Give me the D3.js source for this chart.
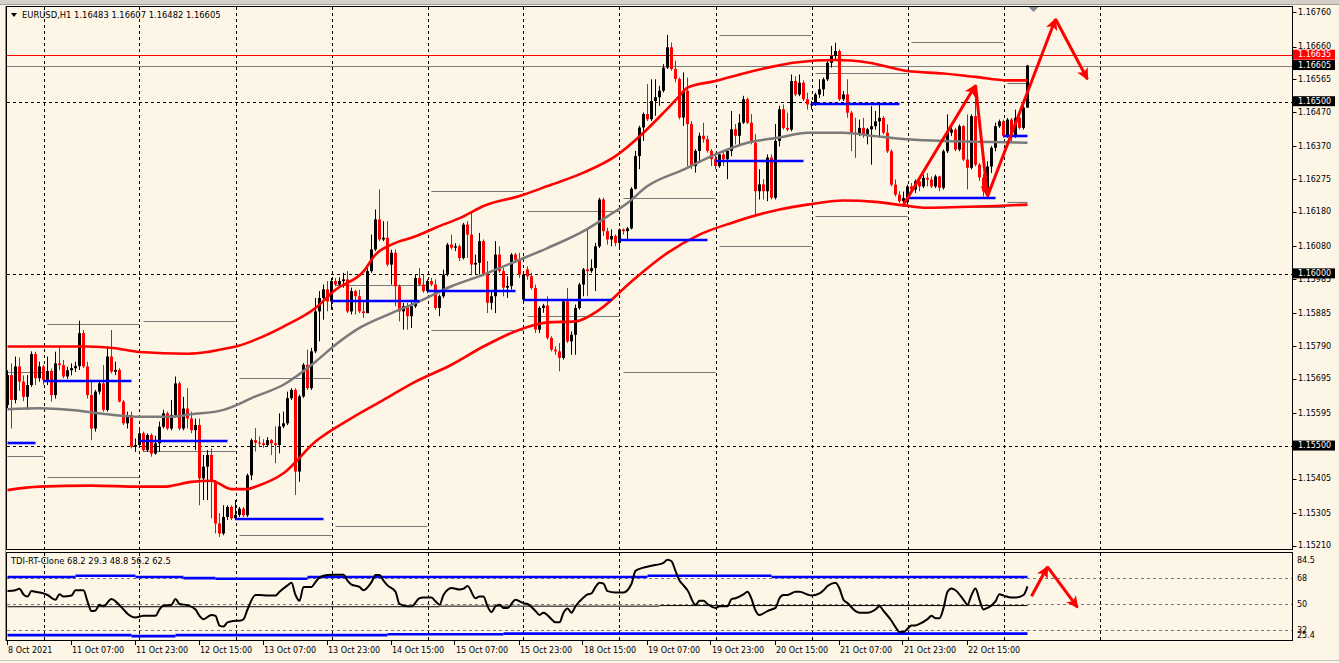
<!DOCTYPE html>
<html><head><meta charset="utf-8">
<script src="https://cdn.jsdelivr.net/npm/d3@7"></script>
<style>html,body{margin:0;padding:0;background:#fdf5e6;}svg{display:block;}text{font-family:"DejaVu Sans","Liberation Sans",Arial,sans-serif;font-size:8px;fill:#000;}</style>
</head><body><svg id="c" width="1339" height="663"></svg>
<script>
// ---------- DATA ----------
const symbolTitle = "EURUSD,H1  1.16483 1.16607 1.16482 1.16605";
const indicatorTitle = "TDI-RT-Clone 68.2 29.3 48.8 56.2 62.5";
const open = [
1.15619,1.15706,1.15634,1.15731,1.15687,1.15643,1.15677,1.15767,1.15697,1.15731,
1.15692,1.15718,1.15648,1.15740,1.15735,1.15702,1.15720,1.15726,1.15732,1.15828,
1.15731,1.15648,1.15551,1.15658,1.15682,1.15605,1.15760,1.15716,1.15721,1.15629,
1.15566,1.15590,1.15498,1.15503,1.15537,1.15488,1.15532,1.15478,1.15508,1.15556,
1.15595,1.15551,1.15590,1.15682,1.15551,1.15609,1.15580,1.15546,1.15561,1.15406,
1.15440,1.15474,1.15396,1.15275,1.15246,1.15294,1.15323,1.15290,1.15300,1.15318,
1.15299,1.15415,1.15517,1.15510,1.15508,1.15503,1.15517,1.15508,1.15503,1.15557,
1.15566,1.15639,1.15663,1.15426,1.15644,1.15736,1.15668,1.15775,1.15891,1.15930,
1.15955,1.15920,1.15979,1.15969,1.15979,1.15984,1.15891,1.15950,1.15935,1.15891,
1.15886,1.16008,1.16071,1.16158,1.16100,1.16105,1.16027,1.16061,1.15964,1.15891,
1.15906,1.15877,1.15906,1.15988,1.15969,1.15950,1.15979,1.15969,1.15901,1.15935,
1.15998,1.16085,1.16076,1.16080,1.16046,1.16143,1.16114,1.16027,1.16032,1.16095,
1.15998,1.15916,1.15935,1.16056,1.16008,1.15960,1.15965,1.16056,1.16041,1.15925,
1.16013,1.15993,1.15959,1.15838,1.15901,1.15908,1.15814,1.15780,1.15775,1.15756,
1.15920,1.15804,1.15823,1.15901,1.15969,1.16013,1.16008,1.16017,1.16080,1.16216,
1.16124,1.16100,1.16110,1.16090,1.16129,1.16124,1.16132,1.16247,1.16342,1.16425,
1.16464,1.16449,1.16502,1.16513,1.16532,1.16599,1.16658,1.16595,1.16566,1.16454,
1.16532,1.16435,1.16313,1.16357,1.16401,1.16391,1.16357,1.16333,1.16313,1.16347,
1.16333,1.16357,1.16420,1.16401,1.16439,1.16507,1.16439,1.16381,1.16240,1.16260,
1.16240,1.16338,1.16221,1.16386,1.16478,1.16424,1.16419,1.16560,1.16521,1.16555,
1.16507,1.16492,1.16494,1.16521,1.16536,1.16565,1.16613,1.16633,1.16647,1.16507,
1.16521,1.16468,1.16410,1.16405,1.16424,1.16405,1.16420,1.16429,1.16443,1.16453,
1.16410,1.16356,1.16259,1.16230,1.16211,1.16220,1.16254,1.16245,1.16269,1.16254,
1.16279,1.16274,1.16254,1.16283,1.16250,1.16356,1.16410,1.16419,1.16361,1.16429,
1.16332,1.16308,1.16458,1.16317,1.16280,1.16240,1.16312,1.16366,1.16429,1.16443,
1.16400,1.16448,1.16400,1.16453,1.16424,1.16483];
const high = [
1.15720,1.15740,1.15760,1.15757,1.15705,1.15706,1.15775,1.15774,1.15745,1.15736,
1.15760,1.15725,1.15774,1.15790,1.15750,1.15730,1.15740,1.15745,1.15864,1.15837,
1.15745,1.15692,1.15663,1.15690,1.15735,1.15789,1.15837,1.15745,1.15726,1.15634,
1.15600,1.15600,1.15522,1.15551,1.15542,1.15537,1.15537,1.15530,1.15571,1.15605,
1.15600,1.15634,1.15702,1.15687,1.15643,1.15668,1.15600,1.15580,1.15580,1.15474,
1.15488,1.15493,1.15401,1.15305,1.15328,1.15328,1.15328,1.15343,1.15323,1.15323,
1.15420,1.15522,1.15552,1.15528,1.15520,1.15526,1.15520,1.15557,1.15595,1.15600,
1.15658,1.15668,1.15668,1.15649,1.15741,1.15780,1.15785,1.15930,1.15950,1.15969,
1.15979,1.15988,1.15988,1.15990,1.16003,1.16008,1.15960,1.15954,1.15954,1.15920,
1.16017,1.16114,1.16187,1.16245,1.16153,1.16153,1.16070,1.16071,1.15969,1.15916,
1.15916,1.15925,1.15998,1.16017,1.15998,1.15984,1.15988,1.15984,1.15940,1.16012,
1.16090,1.16114,1.16089,1.16085,1.16148,1.16153,1.16182,1.16056,1.16119,1.16100,
1.16037,1.15950,1.16095,1.16080,1.16017,1.15993,1.16060,1.16061,1.16061,1.16003,
1.16022,1.16003,1.15969,1.15906,1.15913,1.15935,1.15819,1.15790,1.15799,1.15925,
1.15959,1.15833,1.15911,1.15974,1.16017,1.16129,1.16042,1.16090,1.16221,1.16221,
1.16134,1.16129,1.16115,1.16132,1.16132,1.16136,1.16252,1.16357,1.16430,1.16469,
1.16551,1.16565,1.16565,1.16546,1.16609,1.16694,1.16672,1.16619,1.16570,1.16585,
1.16570,1.16444,1.16362,1.16410,1.16439,1.16401,1.16362,1.16352,1.16352,1.16357,
1.16362,1.16473,1.16435,1.16464,1.16517,1.16512,1.16464,1.16406,1.16304,1.16275,
1.16347,1.16347,1.16435,1.16488,1.16492,1.16468,1.16579,1.16574,1.16579,1.16562,
1.16526,1.16502,1.16526,1.16565,1.16570,1.16618,1.16662,1.16671,1.16652,1.16531,
1.16565,1.16473,1.16453,1.16448,1.16453,1.16424,1.16487,1.16473,1.16492,1.16458,
1.16434,1.16361,1.16274,1.16240,1.16239,1.16259,1.16264,1.16274,1.16279,1.16288,
1.16293,1.16283,1.16288,1.16285,1.16361,1.16463,1.16424,1.16424,1.16434,1.16432,
1.16463,1.16463,1.16545,1.16322,1.16290,1.16327,1.16371,1.16439,1.16448,1.16448,
1.16453,1.16453,1.16477,1.16458,1.16487,1.16607];
const low = [
1.15610,1.15551,1.15624,1.15660,1.15630,1.15605,1.15672,1.15677,1.15687,1.15678,
1.15677,1.15629,1.15638,1.15720,1.15697,1.15695,1.15705,1.15715,1.15721,1.15726,
1.15638,1.15517,1.15542,1.15650,1.15600,1.15600,1.15711,1.15706,1.15627,1.15561,
1.15551,1.15493,1.15483,1.15498,1.15483,1.15483,1.15469,1.15475,1.15483,1.15551,
1.15546,1.15546,1.15585,1.15546,1.15546,1.15551,1.15537,1.15488,1.15328,1.15343,
1.15343,1.15290,1.15246,1.15236,1.15241,1.15285,1.15285,1.15285,1.15294,1.15294,
1.15294,1.15401,1.15484,1.15498,1.15495,1.15498,1.15474,1.15450,1.15479,1.15552,
1.15561,1.15634,1.15358,1.15396,1.15640,1.15663,1.15663,1.15770,1.15804,1.15867,
1.15891,1.15896,1.15964,1.15960,1.15960,1.15886,1.15882,1.15882,1.15886,1.15872,
1.15886,1.16003,1.16066,1.16095,1.16095,1.16022,1.15969,1.15906,1.15862,1.15838,
1.15838,1.15843,1.15901,1.15964,1.15945,1.15945,1.15964,1.15896,1.15877,1.15930,
1.15993,1.16071,1.16066,1.16037,1.16042,1.16046,1.15998,1.15998,1.15998,1.15993,
1.15886,1.15896,1.15886,1.16003,1.15935,1.15930,1.15955,1.16032,1.15988,1.15916,
1.15983,1.15954,1.15828,1.15828,1.15887,1.15809,1.15775,1.15765,1.15717,1.15751,
1.15799,1.15765,1.15765,1.15896,1.15935,1.15935,1.16003,1.15950,1.16075,1.16110,
1.16085,1.16080,1.16080,1.16075,1.16114,1.16100,1.16129,1.16245,1.16304,1.16386,
1.16444,1.16444,1.16459,1.16488,1.16527,1.16595,1.16590,1.16556,1.16449,1.16430,
1.16313,1.16304,1.16294,1.16328,1.16381,1.16352,1.16313,1.16304,1.16308,1.16313,
1.16275,1.16342,1.16376,1.16371,1.16435,1.16435,1.16376,1.16173,1.16216,1.16216,
1.16211,1.16216,1.16216,1.16370,1.16419,1.16414,1.16414,1.16516,1.16516,1.16502,
1.16477,1.16477,1.16488,1.16511,1.16516,1.16560,1.16599,1.16623,1.16502,1.16502,
1.16453,1.16356,1.16337,1.16400,1.16395,1.16376,1.16317,1.16419,1.16395,1.16405,
1.16351,1.16254,1.16225,1.16206,1.16196,1.16201,1.16235,1.16235,1.16240,1.16249,
1.16254,1.16249,1.16249,1.16240,1.16245,1.16351,1.16400,1.16356,1.16356,1.16327,
1.16245,1.16303,1.16312,1.16270,1.16225,1.16220,1.16293,1.16356,1.16424,1.16395,
1.16395,1.16380,1.16395,1.16419,1.16419,1.16482];
const close = [
1.15706,1.15634,1.15731,1.15687,1.15643,1.15677,1.15767,1.15697,1.15731,1.15692,
1.15718,1.15648,1.15740,1.15735,1.15702,1.15720,1.15726,1.15732,1.15828,1.15731,
1.15648,1.15551,1.15658,1.15682,1.15605,1.15760,1.15716,1.15721,1.15629,1.15566,
1.15590,1.15498,1.15503,1.15537,1.15488,1.15532,1.15478,1.15508,1.15556,1.15595,
1.15551,1.15590,1.15682,1.15551,1.15609,1.15580,1.15546,1.15561,1.15406,1.15440,
1.15474,1.15396,1.15275,1.15246,1.15294,1.15323,1.15290,1.15300,1.15318,1.15299,
1.15415,1.15517,1.15510,1.15508,1.15503,1.15517,1.15508,1.15503,1.15557,1.15566,
1.15639,1.15663,1.15426,1.15644,1.15736,1.15668,1.15775,1.15891,1.15930,1.15955,
1.15920,1.15979,1.15969,1.15979,1.15984,1.15891,1.15950,1.15935,1.15891,1.15886,
1.16008,1.16071,1.16158,1.16100,1.16105,1.16027,1.16061,1.15964,1.15891,1.15906,
1.15877,1.15906,1.15988,1.15969,1.15950,1.15979,1.15969,1.15901,1.15935,1.15998,
1.16085,1.16076,1.16080,1.16046,1.16143,1.16114,1.16027,1.16032,1.16095,1.15998,
1.15916,1.15935,1.16056,1.16008,1.15960,1.15965,1.16056,1.16041,1.15998,1.15998,
1.15993,1.15959,1.15838,1.15901,1.15908,1.15814,1.15780,1.15775,1.15756,1.15920,
1.15804,1.15823,1.15901,1.15969,1.16013,1.16008,1.16017,1.16080,1.16216,1.16124,
1.16100,1.16110,1.16090,1.16129,1.16124,1.16132,1.16247,1.16342,1.16425,1.16464,
1.16449,1.16502,1.16513,1.16532,1.16599,1.16658,1.16595,1.16566,1.16454,1.16532,
1.16435,1.16313,1.16357,1.16401,1.16391,1.16357,1.16333,1.16313,1.16347,1.16333,
1.16357,1.16420,1.16401,1.16439,1.16507,1.16439,1.16381,1.16240,1.16260,1.16240,
1.16338,1.16221,1.16386,1.16478,1.16424,1.16419,1.16560,1.16521,1.16555,1.16507,
1.16492,1.16494,1.16521,1.16536,1.16565,1.16613,1.16633,1.16647,1.16507,1.16521,
1.16468,1.16410,1.16405,1.16424,1.16405,1.16420,1.16429,1.16443,1.16453,1.16410,
1.16356,1.16259,1.16230,1.16211,1.16220,1.16254,1.16245,1.16269,1.16254,1.16279,
1.16274,1.16254,1.16283,1.16250,1.16356,1.16410,1.16419,1.16361,1.16429,1.16332,
1.16308,1.16458,1.16317,1.16280,1.16240,1.16312,1.16366,1.16429,1.16443,1.16400,
1.16448,1.16400,1.16453,1.16424,1.16483,1.16605];

// time axis
const timeLabels = ["8 Oct 2021","11 Oct 07:00","11 Oct 23:00","12 Oct 15:00","13 Oct 07:00","13 Oct 23:00","14 Oct 15:00","15 Oct 07:00","15 Oct 23:00","18 Oct 15:00","19 Oct 07:00","19 Oct 23:00","20 Oct 15:00","21 Oct 07:00","21 Oct 23:00","22 Oct 15:00"];
const timeLabelBars = [0,16,32,48,64,80,96,112,128,144,160,176,192,208,224,240];
const totalSlots = 321;
const dayStartBars = [9,33,57,81,105,129,153,177,201,225,249,273];

// price axis
const priceTicks = [1.16760,1.16660,1.16565,1.16470,1.16370,1.16275,1.16180,1.16080,1.15985,1.15885,1.15790,1.15695,1.15595,1.15500,1.15405,1.15305,1.15210];
const priceDomain = [1.15201, 1.16775];
const dashedLevels = [1.16500, 1.16000, 1.15500];
const askPrice = 1.16635, bidPrice = 1.16605;

// bands (bar index, price)
const upperBandBars = [0,9,20,27,33,45,50,55,58,62,69,77,82,89,92,96,102,107,114,119,128,135,144,152,159,164,168,170,177,185,193,197,207,215,225,234,242,250,255];
const upperBand = [1.15789,1.15789,1.15789,1.15784,1.15773,1.15768,1.15773,1.15784,1.15792,1.15809,1.15847,1.15901,1.15954,1.16007,1.16056,1.16085,1.16109,1.16134,1.16167,1.16197,1.16226,1.16255,1.16294,1.16342,1.16410,1.16468,1.16517,1.16541,1.16560,1.16585,1.16606,1.16614,1.16621,1.16614,1.16589,1.16582,1.16572,1.16562,1.16562];
const midBandBars = [0,8,16,25,33,41,46,54,62,69,77,82,88,96,102,111,119,128,135,144,150,155,160,169,177,185,193,200,209,217,225,234,242,255];
const midBand = [1.15607,1.15610,1.15605,1.15592,1.15585,1.15585,1.15592,1.15605,1.15644,1.15678,1.15745,1.15794,1.15843,1.15886,1.15915,1.15964,1.15998,1.16041,1.16075,1.16124,1.16167,1.16206,1.16255,1.16303,1.16347,1.16381,1.16396,1.16410,1.16410,1.16400,1.16391,1.16386,1.16384,1.16381];
const lowerBandBars = [0,8,21,33,39,46,51,56,60,62,69,77,86,94,102,111,119,128,135,142,148,156,165,173,181,193,200,209,217,224,230,238,247,255];
const lowerBand = [1.15372,1.15382,1.15385,1.15382,1.15382,1.15396,1.15399,1.15375,1.15375,1.15382,1.15421,1.15513,1.15581,1.15634,1.15687,1.15736,1.15789,1.15838,1.15859,1.15862,1.15896,1.15978,1.16061,1.16114,1.16148,1.16187,1.16201,1.16213,1.16209,1.16199,1.16192,1.16194,1.16197,1.16201];

// daily levels
const levelStartBars = [0,9,33,57,81,105,129,153,177,201,225,249];
const levelEndBars   = [8,32,56,80,104,128,152,176,200,224,248,255];
const pivotLevels = [1.15508,1.15690,1.15516,1.15289,1.15922,1.15949,1.15923,1.16098,1.16329,1.16493,1.16220,1.16399];
const upperLevels = [1.15715,1.15854,1.15864,1.15697,1.15969,1.16242,1.16182,1.16221,1.16693,1.16582,1.16672,1.16553];
const lowerLevels = [1.15470,1.15409,1.15486,1.15241,1.15267,1.15837,1.15878,1.15715,1.16080,1.16167,1.16195,1.16209];

// drawn arrows (bar, price)
const arrowBars = [224,242,245,262,270];
const arrowPrices = [1.16201,1.16548,1.16225,1.16740,1.16565];

// TDI indicator
const tdiDomain = [25.4, 84.5];
const tdiLevels = [68, 50, 32];
const tdiAxisLabels = ["84.5","68","50","32","25.4"];
const tdiAxisValues = [84.5,68,50,32,25.4];
const tdiBars = [0,2,3,4,5,6,7,9,10,12,13,14,16,17,19,20,21,22,23,24,26,27,29,30,32,34,35,37,38,39,41,42,43,45,47,48,49,51,52,53,54,55,57,58,59,60,62,63,65,67,68,70,71,72,73,74,76,77,78,80,82,84,85,86,88,89,91,92,93,94,95,97,98,100,101,103,104,106,107,108,109,111,113,114,115,117,118,119,120,121,122,123,124,125,127,129,130,132,133,134,136,137,138,139,140,141,142,144,145,146,147,148,149,150,152,154,156,157,159,160,162,164,165,166,167,168,169,170,172,173,174,175,177,178,180,181,182,184,185,186,187,188,190,191,192,193,194,195,197,198,200,201,203,204,205,207,208,209,210,212,213,215,217,218,219,221,222,223,224,225,226,227,228,230,231,232,233,234,235,236,237,239,240,241,242,243,244,245,247,248,249,251,252,254,255];
const tdiValues = [59.2,59.8,60.9,56.9,55.4,59.2,58.7,57.6,56.5,53.2,57,55.4,56.1,59.8,59.8,52.1,45.4,45.8,49.8,48.7,53.8,52.1,46.5,43.6,41,42.1,42.1,42.1,46.5,49.2,49.8,53.8,50.3,49.4,46.5,42.1,39.8,42.7,42.1,35.4,34.7,37.6,38.7,38.7,39.8,46.5,56.5,56.5,56.1,56.1,58.7,63.2,64.9,56.5,52.5,62.1,62.1,65.4,68.7,70.3,70.5,70.5,66.5,63.6,62.1,59.8,65.4,70.3,70.3,66.5,63.2,58.7,50.3,48.7,48.7,54.3,54.7,54.7,52.1,49.8,56.5,61.4,60.3,60.9,62.7,54.3,55.4,55.4,48.7,44.7,48.7,49.8,47.6,47.6,53.2,50.9,50.3,45.4,42.7,44.3,39.8,37.6,37.6,44.3,47.2,44.3,48.7,54.7,56.9,57.6,62.1,65,64.3,59.2,58.3,58.3,64.3,73.2,75.4,76.1,77.2,78.7,80.9,79.8,73.2,66.5,63.2,59.8,49.8,52.5,52.5,50.3,47.6,48.7,48.7,53.6,54.3,56.9,58.7,53.8,45.8,42.7,45.4,46.5,47.6,54.3,56.5,56.5,58.7,58.7,56.9,56.1,57.6,59.8,62.7,65,61,53.2,50.9,45.4,44.3,44.3,46.5,48.7,45.5,38.7,34.3,30.9,30.9,33.2,35.4,35.4,36.5,39.8,42.1,40.5,40.5,47.6,58.7,61,59.8,53.2,49.8,56.5,61,53.2,46.5,47.6,52.1,57,56.1,54.7,54.7,56.5,62.5];
const tdiUpperStart = [0,17,32,44,52,75,160,191];
const tdiUpperEnd   = [17,32,44,52,75,160,191,255];
const tdiUpper      = [68.9,69.8,68.9,68.2,67.7,68.9,69.8,68.9];
const tdiLowerStart = [0,31,42,95,124];
const tdiLowerEnd   = [31,42,95,124,255];
const tdiLower      = [28.8,28.1,28.8,29.4,29.8];
const tdiMidStart = [0,108,163];
const tdiMidEnd   = [108,163,255];
const tdiMid      = [48.4,48.8,49.2];
const tdiArrowBars = [256,260,267.5];
const tdiArrowValues = [55.7,76.0,47.9];

// ---------- DRAW ----------
const svg = d3.select('#c');
const BG = '#fdf5e6';
const left = 6.5, right = 1292.5, mTop = 6.5, mBot = 549.5, iTop = 552.5, iBot = 640.5;
const x = d3.scaleLinear().domain([0, totalSlots]).range([7.5, 7.5 + 4 * totalSlots]);
const y = d3.scaleLinear().domain(priceDomain).range([549, 7]);
const yi = d3.scaleLinear().domain(tdiDomain).range([640, 554.5]);

svg.append('rect').attr('width',1339).attr('height',663).attr('fill',BG);
svg.append('rect').attr('x',0).attr('y',0).attr('width',1339).attr('height',4).attr('fill','#d4d0c8');
svg.append('line').attr('x1',0).attr('x2',1339).attr('y1',4.5).attr('y2',4.5).attr('stroke','#a0a0a0');
svg.append('line').attr('x1',0).attr('x2',1339).attr('y1',660.5).attr('y2',660.5).attr('stroke','#c8c4ba');

const defs = svg.append('defs');
defs.append('clipPath').attr('id','clipM').append('rect').attr('x',7).attr('y',7).attr('width',1285).attr('height',542);
defs.append('clipPath').attr('id','clipI').append('rect').attr('x',7).attr('y',553).attr('width',1285).attr('height',87);
defs.append('marker').attr('id','ah').attr('viewBox','0 0 10 10').attr('refX',9).attr('refY',5)
  .attr('markerWidth',15).attr('markerHeight',12).attr('markerUnits','userSpaceOnUse').attr('orient','auto')
  .append('path').attr('d','M0,0 L10,5 L0,10 L2.5,5 z').attr('fill','#ff0000');

const gM = svg.append('g').attr('clip-path','url(#clipM)');
const gI = svg.append('g').attr('clip-path','url(#clipI)');

// vertical grid
[ [gM, 7, 549], [gI, 553, 640] ].forEach(([g, a, b]) => {
  g.selectAll(null).data(dayStartBars).join('line')
    .attr('x1', d => Math.round(x(d)) + 0.5).attr('x2', d => Math.round(x(d)) + 0.5)
    .attr('y1', a).attr('y2', b).attr('stroke','#000').attr('stroke-dasharray','3,3');
});

// dashed price levels
gM.selectAll(null).data(dashedLevels).join('line')
  .attr('x1',7).attr('x2',1292).attr('y1',d=>Math.round(y(d))+0.5).attr('y2',d=>Math.round(y(d))+0.5)
  .attr('stroke','#000').attr('stroke-dasharray','3,3');
// ask / bid lines
gM.append('line').attr('x1',7).attr('x2',1292).attr('y1',Math.round(y(askPrice))+0.5).attr('y2',Math.round(y(askPrice))+0.5).attr('stroke','#ff0000');
gM.append('line').attr('x1',7).attr('x2',1292).attr('y1',Math.round(y(bidPrice))+0.5).attr('y2',Math.round(y(bidPrice))+0.5).attr('stroke','#808080');

// daily gray levels
const seg = d3.range(levelStartBars.length);
[upperLevels, lowerLevels].forEach(arr => {
  gM.selectAll(null).data(seg).join('line')
    .attr('x1', k => x(levelStartBars[k] + (k === 0 ? 0 : 1)))
    .attr('x2', k => x(Math.min(levelEndBars[k] + 1, 255)))
    .attr('y1', k => Math.round(y(arr[k])) + 0.5).attr('y2', k => Math.round(y(arr[k])) + 0.5)
    .attr('stroke','#777').attr('stroke-width',1.2);
});

// candles
const bars = d3.range(open.length);
const col = i => close[i] >= open[i] ? '#000000' : '#ff0000';
gM.selectAll(null).data(bars).join('line')
  .attr('x1', i => x(i)).attr('x2', i => x(i))
  .attr('y1', i => y(high[i])).attr('y2', i => y(low[i]))
  .attr('stroke', col).attr('stroke-width',1);
gM.selectAll(null).data(bars).join('rect')
  .attr('x', i => x(i) - 1.5).attr('width', 3)
  .attr('y', i => y(Math.max(open[i], close[i])))
  .attr('height', i => Math.max(1, Math.abs(y(open[i]) - y(close[i]))))
  .attr('fill', col);

// bands
function bandLine(bs, vs, color, w) {
  const pts = bs.map((b, k) => [b, vs[k]]);
  gM.append('path').attr('d', d3.line().x(d => x(d[0])).y(d => y(d[1])).curve(d3.curveMonotoneX)(pts))
    .attr('fill','none').attr('stroke', color).attr('stroke-width', w);
}
bandLine(midBandBars, midBand, '#7a7a7a', 2.5);
bandLine(upperBandBars, upperBand, '#ff0000', 2.6);
bandLine(lowerBandBars, lowerBand, '#ff0000', 2.6);

// blue pivots
gM.selectAll(null).data(seg).join('line')
  .attr('x1', k => x(levelStartBars[k])).attr('x2', k => x(levelEndBars[k] - (k === levelStartBars.length-1 ? 0 : 1)))
  .attr('y1', k => Math.round(y(pivotLevels[k]))).attr('y2', k => Math.round(y(pivotLevels[k])))
  .attr('stroke','#0000ff').attr('stroke-width',2.6);

// drawn arrows
d3.range(arrowBars.length - 1).forEach(k => {
  gM.append('line').attr('x1', x(arrowBars[k])).attr('y1', y(arrowPrices[k]))
    .attr('x2', x(arrowBars[k+1])).attr('y2', y(arrowPrices[k+1]))
    .attr('stroke','#ff0000').attr('stroke-width',3).attr('marker-end','url(#ah)');
});

// chart shift marker
svg.append('path').attr('d', `M${x(256.5)-5},7 L${x(256.5)+5},7 L${x(256.5)},12 z`).attr('fill','#7f8b97');

// ---------- indicator ----------
gI.selectAll(null).data(tdiLevels).join('line')
  .attr('x1',7).attr('x2',1292).attr('y1',d=>Math.round(yi(d))+0.5).attr('y2',d=>Math.round(yi(d))+0.5)
  .attr('stroke','#777').attr('stroke-dasharray','3,3');
function stepLine(st, en, vals, color, w) {
  gI.selectAll(null).data(d3.range(vals.length)).join('line')
    .attr('x1', k => x(st[k])).attr('x2', k => x(en[k]))
    .attr('y1', k => yi(vals[k])).attr('y2', k => yi(vals[k]))
    .attr('stroke', color).attr('stroke-width', w);
}
stepLine(tdiMidStart, tdiMidEnd, tdiMid, '#000', 1);
stepLine(tdiUpperStart, tdiUpperEnd, tdiUpper, '#0000ff', 2.6);
stepLine(tdiLowerStart, tdiLowerEnd, tdiLower, '#0000ff', 2.6);
gI.append('path').attr('d', d3.line().x(d => x(d[0])).y(d => yi(d[1])).curve(d3.curveMonotoneX)(tdiBars.map((b,k)=>[b, tdiValues[k]])))
  .attr('fill','none').attr('stroke','#000').attr('stroke-width',2);
d3.range(tdiArrowBars.length - 1).forEach(k => {
  gI.append('line').attr('x1', x(tdiArrowBars[k])).attr('y1', yi(tdiArrowValues[k]))
    .attr('x2', x(tdiArrowBars[k+1])).attr('y2', yi(tdiArrowValues[k+1]))
    .attr('stroke','#ff0000').attr('stroke-width',3).attr('marker-end','url(#ah)');
});

// frames
svg.append('rect').attr('x',left).attr('y',mTop).attr('width',right-left).attr('height',mBot-mTop).attr('fill','none').attr('stroke','#000');
svg.append('rect').attr('x',left).attr('y',iTop).attr('width',right-left).attr('height',iBot-iTop).attr('fill','none').attr('stroke','#000');
svg.append('line').attr('x1',5.5).attr('x2',5.5).attr('y1',6).attr('y2',641).attr('stroke','#909090');

// titles
svg.append('path').attr('d','M11,13 L17,13 L14,17 z').attr('fill','#000');
svg.append('text').attr('x',22).attr('y',15.5).attr('dominant-baseline','middle').style('font-size','8.4px').text(symbolTitle);
svg.append('text').attr('x',11).attr('y',561.5).attr('dominant-baseline','middle').style('font-size','8.4px').text(indicatorTitle);

// price axis
const axG = svg.append('g');
axG.selectAll(null).data(priceTicks).join('line')
  .attr('x1',right).attr('x2',right+4).attr('y1',d=>Math.round(y(d))+0.5).attr('y2',d=>Math.round(y(d))+0.5).attr('stroke','#000');
axG.selectAll(null).data(priceTicks).join('text')
  .attr('x',1298).attr('y',d=>y(d)).attr('dominant-baseline','middle').text(d=>d.toFixed(5));
const marks = [
  {p: askPrice, bg:'#ff0000'}, {p: bidPrice, bg:'#000'},
  {p: dashedLevels[0], bg:'#000'}, {p: dashedLevels[1], bg:'#000'}, {p: dashedLevels[2], bg:'#000'}
];
marks.forEach(m => {
  const yy = y(m.p) - 0.5;
  axG.append('rect').attr('x',1293).attr('y',yy-5).attr('width',42).attr('height',10).attr('fill',m.bg);
  axG.append('text').attr('x',1298).attr('y',yy).attr('dominant-baseline','middle').style('fill','#fff').text(m.p.toFixed(5));
});

// indicator axis
tdiAxisValues.forEach((v,k) => {
  let yy = yi(v);
  if (k === 0) yy += 5.5;
  if (k === tdiAxisValues.length - 1) yy -= 5;
  svg.append('text').attr('x',1297).attr('y',yy).attr('dominant-baseline','middle').text(tdiAxisLabels[k]);
});

// time axis
svg.selectAll(null).data(timeLabelBars).join('line')
  .attr('x1',d=>Math.round(x(d))-0.5).attr('x2',d=>Math.round(x(d))-0.5).attr('y1',641).attr('y2',645).attr('stroke','#000');
svg.selectAll(null).data(timeLabelBars).join('text')
  .attr('x',d=>x(d)+0.5).attr('y',650).attr('dominant-baseline','middle').text((d,k)=>timeLabels[k]);
</script>
</body></html>
